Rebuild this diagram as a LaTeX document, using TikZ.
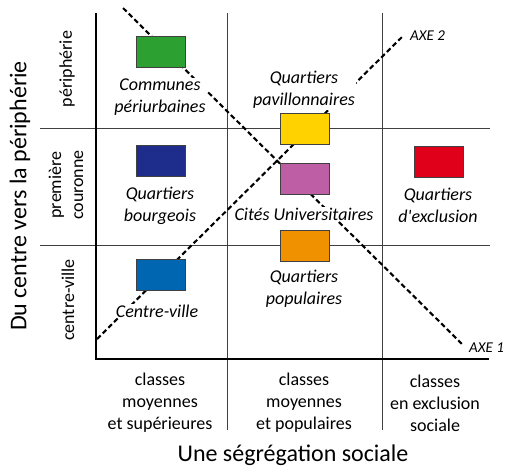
\documentclass[tikz,border=0pt]{standalone}
\usepackage{fontspec}
\setmainfont{Carlito}
\usepackage{xcolor}
\usepackage{tikz}
\usetikzlibrary{positioning}

\definecolor{cPeri}{RGB}{44,160,48}
\definecolor{cBourg}{RGB}{30,45,140}
\definecolor{cCentre}{RGB}{0,102,178}
\definecolor{cPav}{RGB}{255,210,0}
\definecolor{cCite}{RGB}{190,95,165}
\definecolor{cPop}{RGB}{240,145,0}
\definecolor{cExcl}{RGB}{225,0,25}

\begin{document}
\begin{tikzpicture}[x=1pt,y=-1pt]
  \tikzstyle{quartier}=[draw=black!75,line width=0.8pt,minimum width=49pt,minimum height=31pt,inner sep=0pt]
  \tikzstyle{lbl}=[font=\fontsize{18}{22}\selectfont\itshape,align=center,fill=white,inner sep=1pt]
  \tikzstyle{cat}=[font=\fontsize{18}{22}\selectfont,align=center]
  \tikzstyle{titre}=[font=\fontsize{24}{28}\selectfont]
  \tikzstyle{axelbl}=[font=\fontsize{15}{17}\selectfont\itshape,inner sep=1pt]
  \tikzstyle{axe}=[line width=2.1pt,dash pattern=on 5pt off 3pt]
  \tikzstyle{grille}=[draw=black!75,line width=0.9pt]
  \tikzstyle{cadre}=[line width=2.4pt]

  \useasboundingbox (0,0) rectangle (510,475);

  \draw[grille] (40,128) -- (490,128);
  \draw[grille] (40,245) -- (490,245);
  \draw[grille] (227,13) -- (227,430);
  \draw[grille] (382,13) -- (382,430);
  \draw[cadre] (96,13) -- (96,359) -- (489,359);

  \coordinate (a1s) at (123,8);
  \coordinate (a1e) at (463,345);
  \coordinate (a2s) at (97,339);
  \coordinate (a2e) at (403,36);
  \node[axelbl,anchor=west] (axe1) at (468,348) {AXE 1};
  \node[axelbl,anchor=west] (axe2) at (409,36) {AXE 2};
  \draw[axe] (a1s) -- (a1e);
  \draw[axe] (a2s) -- (a2e);

  \node[quartier,fill=cPeri] (peri) at (160.5,51.5) {};
  \node[quartier,fill=cBourg] (bourg) at (160.5,161) {};
  \node[quartier,fill=cCentre] (centre) at (160.5,275) {};
  \node[quartier,fill=cPav] (pav) at (304.5,129) {};
  \node[quartier,fill=cCite] (cite) at (304.5,178.5) {};
  \node[quartier,fill=cPop] (pop) at (304.5,246) {};
  \node[quartier,fill=cExcl] (excl) at (439,162) {};

  \node[lbl] (periL) at (160,97) {Communes\\périurbaines};
  \node[lbl] (bourgL) at (160,206) {Quartiers\\bourgeois};
  \node[lbl] (centreL) at (157,311) {Centre-ville};
  \node[lbl] (pavL) at (304,90) {Quartiers\\pavillonnaires};
  \node[lbl] (citeL) at (304,214) {Cités Universitaires};
  \node[lbl] (popL) at (304,289) {Quartiers\\populaires};
  \node[lbl] (exclL) at (438,205) {Quartiers\\d\textquotesingle exclusion};

  \node[cat,rotate=90] (rPeri) at (67,69) {périphérie};
  \node[cat,rotate=90] (rCour) at (66,185) {première\\couronne};
  \node[cat,rotate=90] (rCentre) at (68,300) {centre-ville};

  \node[cat] (cSup) at (160,403) {classes\\moyennes\\et supérieures};
  \node[cat] (cPopu) at (304,403) {classes\\moyennes\\et populaires};
  \node[cat] (cExc) at (435,403) {classes\\en exclusion\\sociale};

  \node[titre,rotate=90] (yTitre) at (20,196) {Du centre vers la périphérie};
  \node[titre] (xTitre) at (293,455) {Une ségrégation sociale};
\end{tikzpicture}
\end{document}
